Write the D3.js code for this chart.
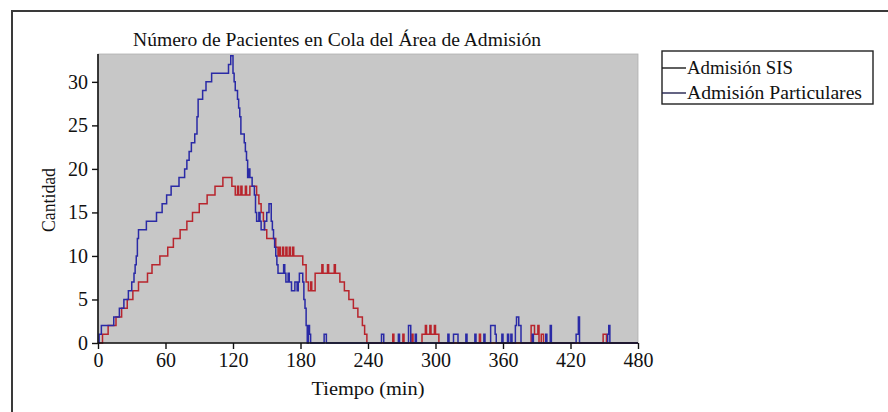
<!DOCTYPE html>
<html>
<head>
<meta charset="utf-8">
<script src="https://cdn.jsdelivr.net/npm/d3@7"></script>
<style>
  html, body { margin: 0; padding: 0; background: #fff; }
  svg { display: block; }
</style>
</head>
<body>
<svg id="chart" width="888" height="412"></svg>
<script>
// Queue length over the working day, step series [minute, patients]
const sisSteps = [
  [0,0],[4,1],[9,2],[16,3],[21,4],[26,5],[31,6],[36,7],[44,8],[48,9],[55,10],[62,11],[67,12],
  [73,13],[79,14],[84,15],[90,16],[97,17],[104,18],[111,19],[119,18],[122,17],[124,18],[125,17],
  [127,18],[128,17],[131,18],[132,17],[135,18],[141,17],[143,16],[145,15],[147,14],[148,13],
  [150,12],[158,11],[160,10],[161,11],[162,10],[164,11],[165,10],[167,11],[168,10],[170,11],
  [171,10],[173,11],[174,10],[182,9],[185,7],[187,6],[189,7],[190,6],[193,8],[199,9],[200,8],
  [204,9],[205,8],[210,9],[211,8],[215,7],[219,6],[223,5],[227,4],[231,3],[235,2],[237,1],[239,0],
  [262,1],[263,0],[271,1],[272,0],[279,1],[280,0],[288,1],[291,2],[292,1],[295,2],[296,1],
  [299,2],[300,1],[303,0],[339,1],[340,0],[385,2],[388,1],[391,2],[392,0],[394,1],[396,0],
  [449,1],[452,0],[480,0]
];
const particularesSteps = [
  [0,0],[1,1],[3,2],[14,3],[19,4],[23,5],[27,6],[30,7],[32,8],[33,9],[34,10],[35,12],[36,13],
  [43,14],[52,15],[57,16],[61,17],[65,18],[72,19],[77,20],[79,21],[81,22],[83,23],[86,24],
  [88,26],[89,28],[93,29],[96,30],[101,31],[116,32],[118,33],[120,31],[121,30],[122,29],
  [124,28],[125,27],[126,26],[127,24],[130,23],[131,22],[132,21],[133,19],[134,20],[135,19],
  [137,18],[139,17],[140,15],[141,14],[143,15],[144,14],[145,13],[148,14],[150,15],[152,16],
  [154,14],[155,13],[156,12],[157,11],[158,10],[159,9],[160,8],[165,9],[166,8],[167,7],[169,8],
  [170,7],[172,6],[175,7],[177,6],[178,7],[179,8],[182,7],[183,5],[184,4],[185,2],[186,0],
  [187,2],[188,1],[189,0],[201,1],[203,0],[252,1],[254,0],[267,1],[268,0],[276,2],[278,0],
  [282,1],[283,0],[311,1],[312,0],[316,1],[320,0],[327,1],[328,0],[335,1],[336,0],[343,1],
  [344,0],[349,2],[353,1],[354,0],[359,1],[360,0],[364,1],[365,0],[367,1],[368,0],[371,2],
  [372,3],[374,2],[376,0],[386,1],[387,0],[398,1],[399,0],[402,2],[403,0],[425,1],[427,3],
  [428,0],[453,1],[454,2],[455,0],[480,0]
];
const xTicks = [0, 60, 120, 180, 240, 300, 360, 420, 480];
const yTicks = [0, 5, 10, 15, 20, 25, 30];
const seriesNames = ["Admisión SIS", "Admisión Particulares"];

const SERIF = '"Liberation Serif", "Times New Roman", serif';
const svg = d3.select("#chart");
const plot = { left: 98, right: 638, top: 54, bottom: 343 };

const x = d3.scaleLinear().domain([0, 480]).range([plot.left, plot.right]);
const y = d3.scaleLinear().domain([0, 33.2]).range([plot.bottom, plot.top]);

// outer frame (left and top edges)
svg.append("path")
  .attr("d", "M12,412 L12,11 L888,11")
  .attr("fill", "none").attr("stroke", "#3a3a3a").attr("stroke-width", 2);

// plot background
svg.append("rect")
  .attr("x", plot.left).attr("y", plot.top)
  .attr("width", plot.right - plot.left).attr("height", plot.bottom - plot.top)
  .attr("fill", "#c7c7c7").attr("stroke", "#b0b0b0").attr("stroke-width", 0.8);

const line = d3.line()
  .x(d => x(d[0])).y(d => y(d[1]))
  .curve(d3.curveStepAfter);

svg.append("path").datum(sisSteps)
  .attr("d", line).attr("fill", "none")
  .attr("stroke", "#b8252d").attr("stroke-width", 1.5);

svg.append("path").datum(particularesSteps)
  .attr("d", line).attr("fill", "none")
  .attr("stroke", "#2a2aa6").attr("stroke-width", 1.5);

// axes
const xAxis = svg.append("g")
  .attr("transform", `translate(0,${plot.bottom})`)
  .call(d3.axisBottom(x).tickValues(xTicks).tickSize(6).tickPadding(4).tickSizeOuter(0));
const yAxis = svg.append("g")
  .attr("transform", `translate(${plot.left},0)`)
  .call(d3.axisLeft(y).tickValues(yTicks).tickSize(6).tickPadding(4).tickSizeOuter(0));

[xAxis, yAxis].forEach(g => {
  g.attr("font-family", null).attr("font-size", null);
  g.select(".domain").attr("stroke", "#111").attr("stroke-width", 1.6);
  g.selectAll(".tick line").attr("stroke", "#111").attr("stroke-width", 1.4);
  g.selectAll(".tick text")
    .style("font-family", SERIF)
    .style("font-size", "20px").attr("fill", "#111");
});
yAxis.select(".domain").attr("d", `M0,${plot.top}V${plot.bottom}`);
xAxis.select(".domain").attr("d", `M${plot.left},0H${plot.right}`);

// titles
function label(xp, yp, str, size, len) {
  return svg.append("text")
    .attr("x", xp).attr("y", yp).attr("text-anchor", "middle")
    .attr("textLength", len).attr("lengthAdjust", "spacingAndGlyphs")
    .style("font-family", SERIF).style("font-size", size + "px")
    .attr("fill", "#111")
    .text(str);
}
label(337, 46, "Número de Pacientes en Cola del Área de Admisión", 18, 408);
label(368, 395, "Tiempo (min)", 18, 113);
label(0, 0, "Cantidad", 18, 64).attr("transform", "translate(55,200) rotate(-90)");

// legend
const legend = svg.append("g");
legend.append("rect")
  .attr("x", 662).attr("y", 51).attr("width", 211).attr("height", 53)
  .attr("fill", "#fff").attr("stroke", "#222").attr("stroke-width", 1.4);
const legendColors = ["#1a1a1a", "#22224e"];
const legendLengths = [106, 175];
seriesNames.forEach((name, i) => {
  const yy = 68 + i * 25;
  legend.append("line")
    .attr("x1", 662).attr("x2", 686).attr("y1", yy).attr("y2", yy)
    .attr("stroke", legendColors[i]).attr("stroke-width", 1.4);
  legend.append("text")
    .attr("x", 687).attr("y", yy + 6)
    .attr("textLength", legendLengths[i]).attr("lengthAdjust", "spacingAndGlyphs")
    .style("font-family", SERIF).style("font-size", "18px")
    .attr("fill", "#111")
    .text(name);
});
</script>
</body>
</html>
